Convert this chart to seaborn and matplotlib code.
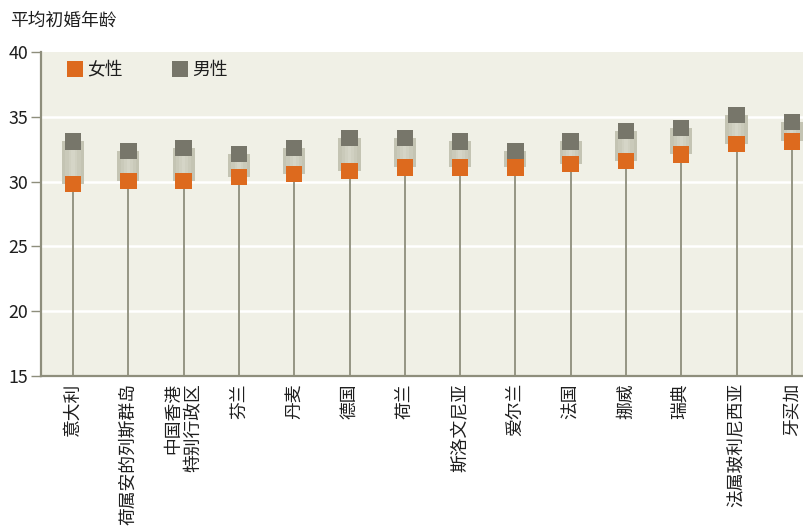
import numpy as np
import pandas as pd
import matplotlib
matplotlib.use("Agg")
import matplotlib.pyplot as plt
import seaborn as sns
from matplotlib.lines import Line2D

# --- DATOS ---
paises = ["意大利", "荷属安的列斯群岛", "中国香港\n特别行政区", "芬兰", "丹麦", "德国", "荷兰",
          "斯洛文尼亚", "爱尔兰", "法国", "挪威", "瑞典", "法属玻利尼西亚", "牙买加"]
edad_mujer = [29.8, 30.05, 30.05, 30.35, 30.6, 30.8, 31.1, 31.1, 31.1, 31.35, 31.6, 32.1, 32.9, 33.1]
edad_hombre = [33.1, 32.35, 32.6, 32.15, 32.6, 33.35, 33.35, 33.1, 32.35, 33.1, 33.9, 34.15, 35.15, 34.6]
series = ["女性", "男性"]
y_ticks = [15, 20, 25, 30, 35, 40]

# --- ESTILO ---
sns.set_theme(style="white")
plt.rcParams['font.family'] = ['Noto Sans CJK SC', 'DejaVu Sans']

COL_F = "#dd6a1e"
COL_M = "#77766a"
COL_FONDO = "#f0f0e6"
COL_EJE = "#8e8e7c"
COL_TXT = "#1e1e1e"
FS = 12.8

df = pd.DataFrame({
    "pais": paises * 2,
    "x": list(range(len(paises))) * 2,
    "edad": edad_mujer + edad_hombre,
    "sexo": [series[0]] * len(paises) + [series[1]] * len(paises),
})

fig = plt.figure(figsize=(8.04, 5.29), dpi=100)
ax = fig.add_axes([0.051, 0.289, 0.949, 0.6127])
ax.set_facecolor(COL_FONDO)

x = np.arange(len(paises))
lo = np.array(edad_mujer)
hi = np.array(edad_hombre)

# tallos verticales desde la base hasta el marcador femenino
ax.vlines(x, 15, lo, color=COL_EJE, linewidth=1.3, zorder=2)

# banda entre mujer y hombre (efecto cilindro con capas)
for ancho, col in [(0.40, "#c4c4b3"), (0.28, "#cacaba"), (0.16, "#d0d0c1"), (0.06, "#d5d5c7")]:
    ax.bar(x, hi - lo, bottom=lo, width=ancho, color=col, linewidth=0, zorder=3)

# marcadores cuadrados
sns.scatterplot(data=df, x="x", y="edad", hue="sexo", palette=[COL_F, COL_M],
                marker="s", s=140, linewidth=0, legend=False, ax=ax, zorder=4)

# rejilla
for yt in y_ticks[1:-1]:
    ax.axhline(yt, color="white", linewidth=1.8, zorder=1)

ax.set_xlim(-0.58, 13.22)
ax.set_ylim(15, 40)
ax.set_yticks(y_ticks)
ax.set_yticklabels([str(v) for v in y_ticks], fontsize=FS, color=COL_TXT)
ax.set_xticks(x)
ax.set_xticklabels(paises, rotation=90, fontsize=FS, color=COL_TXT,
                   va="top", ha="center", multialignment="right", linespacing=1.15)
ax.tick_params(axis="y", length=7, width=1.0, color=COL_EJE, pad=2, left=True)
ax.tick_params(axis="x", length=0, pad=5)
ax.set_xlabel("")
ax.set_ylabel("")

for lado in ["top", "right"]:
    ax.spines[lado].set_visible(False)
for lado in ["left", "bottom"]:
    ax.spines[lado].set_color(COL_EJE)
    ax.spines[lado].set_linewidth(1.6)

# leyenda manual
handles = [Line2D([0], [0], marker="s", color="none", markerfacecolor=c, markersize=11.5,
                  markeredgewidth=0) for c in [COL_F, COL_M]]
leg = ax.legend(handles, series, loc="upper left", ncol=2, frameon=False,
                fontsize=FS, handlelength=0.7, handletextpad=0.35, columnspacing=2.85,
                bbox_to_anchor=(0.018, 1.015), borderaxespad=0.4)
for t in leg.get_texts():
    t.set_color(COL_TXT)

fig.text(0.012, 0.96, "平均初婚年龄", fontsize=FS, color=COL_TXT, va="center", ha="left")

plt.savefig("out.png", dpi=100)
